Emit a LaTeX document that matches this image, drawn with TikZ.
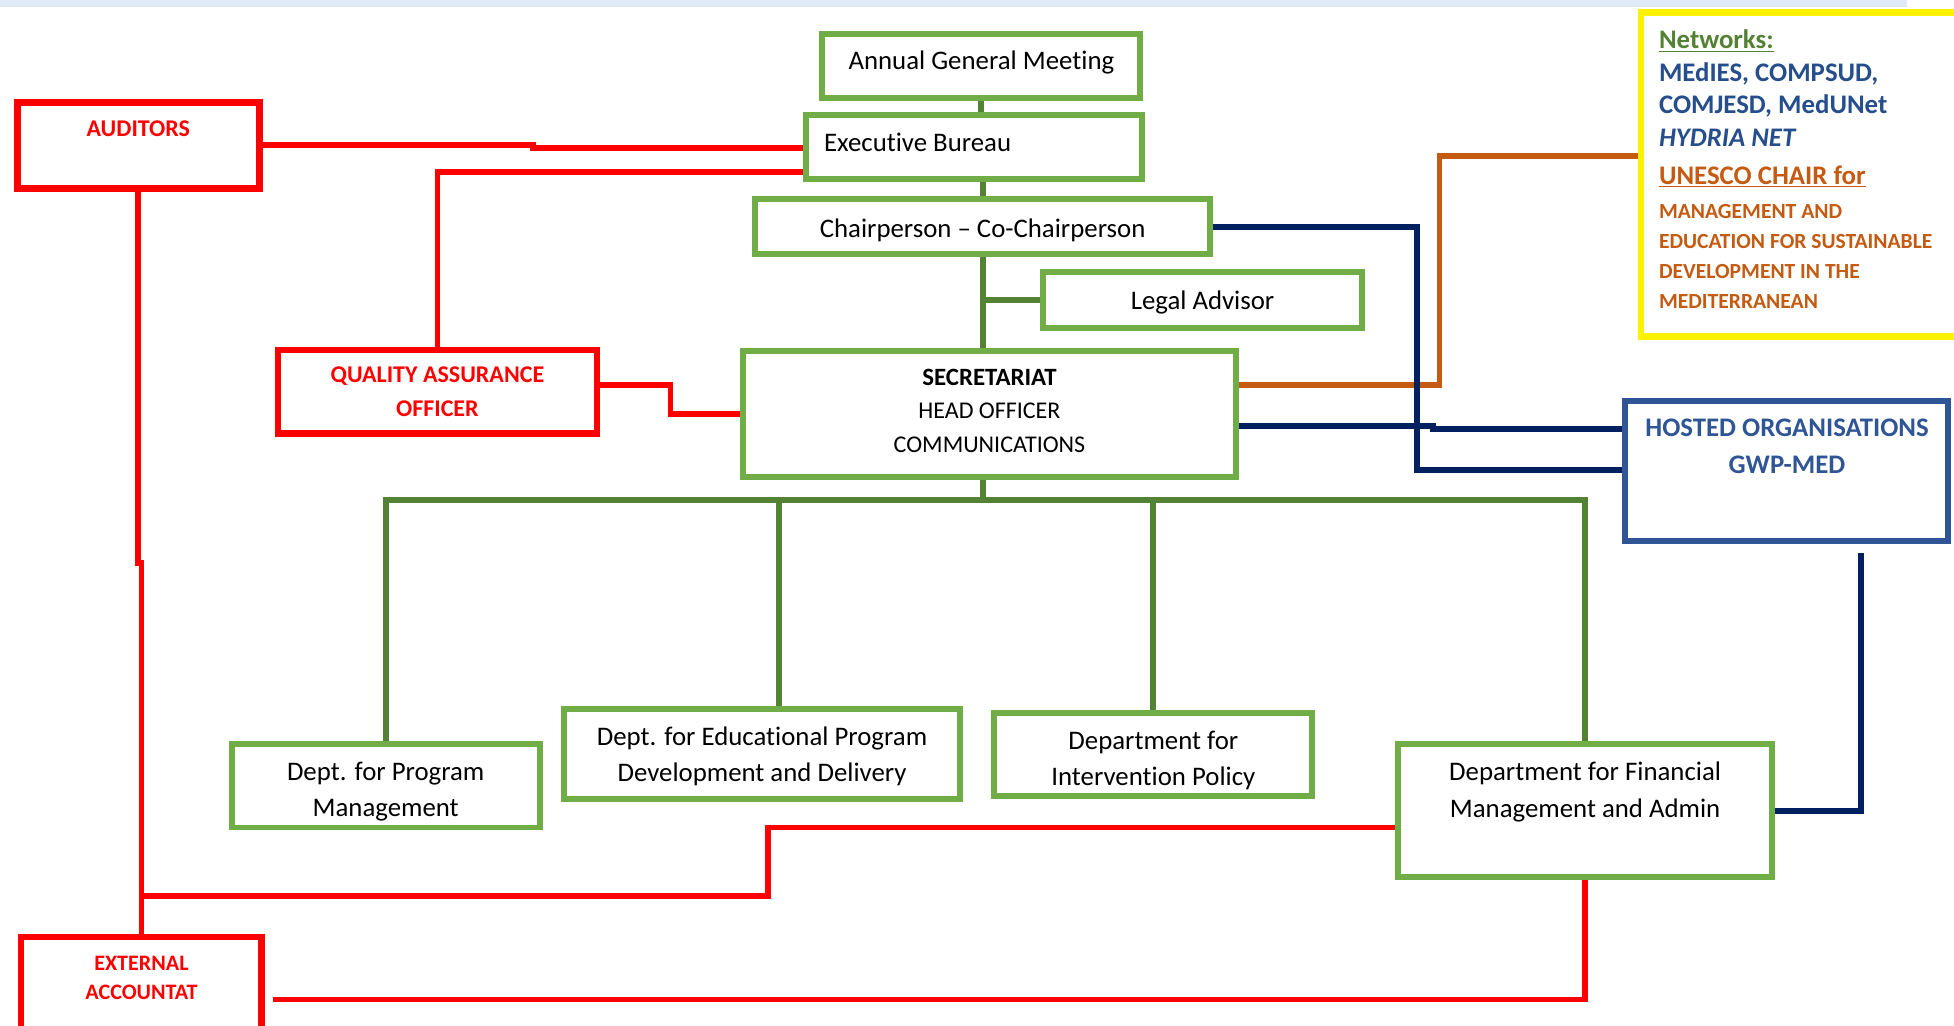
\documentclass[tikz,border=0pt]{standalone}
\usepackage{fontspec}
\setmainfont{Carlito}[Ligatures={TeX,NoCommon}]
\usepackage{xcolor}
\usetikzlibrary{positioning, backgrounds}
\definecolor{bxG}{RGB}{112,173,71}
\definecolor{lnG}{RGB}{84,130,53}
\definecolor{navy}{RGB}{0,32,96}
\definecolor{orng}{RGB}{197,90,17}
\definecolor{hostB}{RGB}{47,85,151}
\definecolor{netB}{RGB}{38,78,140}
\definecolor{band}{RGB}{222,235,247}

\begin{document}
\begin{tikzpicture}[x=0.025cm, y=-0.025cm,
    gbox/.style={draw=bxG, line width=3.4pt, fill=white, inner sep=0pt},
    gtxt/.style={inner sep=0pt, align=center, font=\fontsize{15.3}{20.6}\selectfont},
    rbox/.style={draw=red, line width=3.8pt, fill=white, inner sep=0pt},
    rtxt/.style={inner sep=0pt, align=center, text=red, font=\bfseries\fontsize{13.7}{19.2}\selectfont},
    gln/.style={draw=lnG, line width=3.3pt},
    rln/.style={draw=red, line width=3.3pt},
    nln/.style={draw=navy, line width=3.4pt},
    oln/.style={draw=orng, line width=3.2pt}
  ]
  \useasboundingbox (0,0) rectangle (1568,823);
  \clip (0,0) rectangle (1568,823);
  \fill[band] (0,0) rectangle (1530,6);

  % governance
  \node[gbox, minimum width=6.375cm, minimum height=1.3cm] (agm) at (787.5,53) {};
  \node[gtxt] (agm-t) at (787.5,50) {Annual General Meeting};
  \node[gbox, minimum width=6.725cm, minimum height=1.3cm] (eb) at (781.5,118) {};
  \node[gtxt, anchor=west] (eb-t) at (661,114) {Executive Bureau};
  \node[gbox, minimum width=9.125cm, minimum height=1.1cm] (chair) at (788.5,182) {};
  \node[gtxt] (chair-t) at (788.5,185) {Chairperson – Co-Chairperson};
  \node[gbox, minimum width=6.4cm, minimum height=1.125cm] (legal) at (965,240.5) {};
  \node[gtxt] (legal-t) at (965,242.5) {Legal Advisor};
  \node[gbox, minimum width=9.9cm, minimum height=2.525cm] (sec) at (794,332.5) {};
  \node[gtxt, font=\fontsize{13.7}{19.2}\selectfont] (sec-t) at (794,329.5)
    {{\fontsize{14.2}{19.2}\selectfont\bfseries SECRETARIAT}\\HEAD OFFICER\\COMMUNICATIONS};

  % control
  \node[rbox, minimum width=4.85cm, minimum height=1.725cm] (aud) at (111,116.5) {};
  \node[rtxt] (aud-t) at (111,103) {AUDITORS};
  \node[rbox, minimum width=6.4cm, minimum height=1.675cm] (qa) at (351,314.5) {};
  \node[rtxt] (qa-t) at (351,314.5) {QUALITY ASSURANCE\\OFFICER};
  \node[rbox, minimum width=4.825cm, minimum height=1.9cm] (ext) at (113.5,790) {};
  \node[rtxt, font=\bfseries\fontsize{12.6}{16.4}\selectfont] (ext-t) at (113.5,785) {EXTERNAL\\ACCOUNTAT};

  % departments
  \node[gbox, minimum width=6.175cm, minimum height=1.675cm] (pm) at (309.5,630.5) {};
  \node[gtxt] (pm-t) at (309.5,635.5) {Dept. for Program\\Management};
  \node[gbox, minimum width=7.925cm, minimum height=1.8cm] (edu) at (611.5,605) {};
  \node[gtxt] (edu-t) at (611.5,607) {Dept. for Educational Program\\Development and Delivery};
  \node[gbox, minimum width=6.375cm, minimum height=1.675cm] (int) at (925.5,605.5) {};
  \node[gtxt] (int-t) at (925.5,610.5) {Department for\\Intervention Policy};
  \node[gbox, minimum width=7.5cm, minimum height=2.675cm] (fin) at (1272,650.5) {};
  \node[gtxt] (fin-t) at (1272,635.5) {Department for Financial\\Management and Admin};

  % partners
  \node[draw=hostB, line width=3.4pt, fill=white, minimum width=6.475cm, minimum height=2.8cm] (host) at (1433.5,378) {};
  \node[inner sep=0pt, align=center, text=hostB, font=\bfseries\fontsize{15.3}{21.3}\selectfont] (host-t) at (1434,358)
    {HOSTED ORGANISATIONS\\GWP-MED};
  \node[draw=yellow, line width=3.6pt, fill=white, minimum width=7.075cm, minimum height=6.5cm] (net) at (1458.5,140) {};
  \node[anchor=north west, inner sep=0pt, align=left, font=\bfseries\fontsize{15.3}{18.7}\selectfont] (net-t) at (1331,23.5)
    {{\color{lnG}\underline{Networks:}}\\
     {\color{netB}MEdIES, COMPSUD,}\\
     {\color{netB}COMJESD, MedUNet}\\
     {\color{netB}\itshape HYDRIA NET}\\[2.6pt]
     {\color{orng}\underline{UNESCO CHAIR for}}\\[1.2pt]
     {\color{orng}\fontsize{12.3}{17}\selectfont MANAGEMENT AND}\\[-1.7pt]
     {\color{orng}\fontsize{12.3}{17}\selectfont EDUCATION FOR SUSTAINABLE}\\[-1.7pt]
     {\color{orng}\fontsize{12.3}{17}\selectfont DEVELOPMENT IN THE}\\[-1.7pt]
     {\color{orng}\fontsize{12.3}{17}\selectfont MEDITERRANEAN}};

  \begin{scope}[on background layer]
    % green tree
    \draw[gln] (agm.south) -- (agm.south |- eb.north);
    \draw[gln] (chair.north |- eb.south) -- (chair.north);
    \draw[gln] (chair.south) -- (chair.south |- sec.north);
    \draw[gln] (legal.west) -- (legal.west -| chair.south);
    \draw[gln] (chair.south |- sec.south) -- (chair.south |- 0,401);
    \draw[gln] (pm.north) |- (fin.north |- 0,401) -- (fin.north);
    \coordinate (edu-in) at ([xshift=0.34cm]edu.north);
    \draw[gln] (edu-in) -- (edu-in |- 0,401);
    \draw[gln] (int.north) -- (int.north |- 0,401);

    % red lines
    \draw[rln] (aud.east) -- (428,116.5) -- (428,119) -- (eb.west |- 0,119);
    \draw[rln] (qa.north) |- (eb.west |- 0,138);
    \draw[rln] (qa.east |- 0,309) -| (538,332.5) -- (sec.west);
    \draw[rln] (aud.south) |- (113.5,452) -- (ext.north);
    \draw[rln] (ext.north |- 0,719) -| (616,664) -- (fin.west |- 0,664);
    \coordinate (ext-r) at ([xshift=0.15cm]ext.east);
    \draw[rln] (ext-r |- 0,802) -| (fin.south);

    % orange and navy
    \draw[oln] (sec.east |- 0,309) -| (1155,125) -- (net.west |- 0,125);
    \draw[nln] (chair.east) -| (1137,377) -- (host.west |- 0,377);
    \draw[nln] (sec.east |- 0,342) -- (1150,342) -- (1150,344) -- (host.west |- 0,344);
    \coordinate (host-b) at (1493,444);
    \draw[nln] (fin.east) -| (host-b);
  \end{scope}
\end{tikzpicture}
\end{document}
